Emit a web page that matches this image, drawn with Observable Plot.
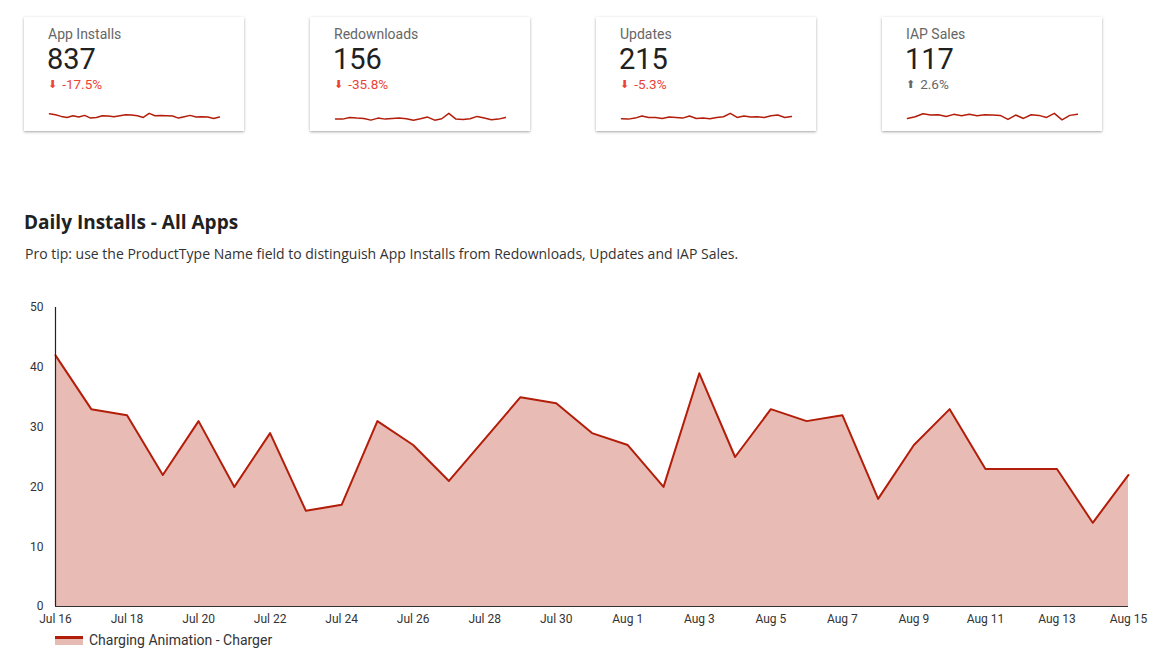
<!DOCTYPE html>
<html>
<head>
<meta charset="utf-8">
<script src="https://cdn.jsdelivr.net/npm/d3@7"></script>
<script src="https://cdn.jsdelivr.net/npm/@observablehq/plot@0.6"></script>
<style>
  html, body { margin: 0; padding: 0; background: #fff; }
  body { width: 1168px; height: 666px; position: relative; overflow: hidden; font-family: Roboto, sans-serif; }
  .card { position: absolute; top: 17px; width: 220px; height: 114px; background: #fff;
          box-shadow: 0 1px 3px rgba(0,0,0,0.28), 0 1px 1px rgba(0,0,0,0.08); }
  .card .lab { position: absolute; left: 24px; top: 9px; font-size: 14px; line-height: 16px; color: #666; }
  .card .num { position: absolute; left: 23px; top: 26px; font-size: 29px; line-height: 32px; color: #212121; }
  .card .chg { position: absolute; left: 24px; top: 59px; font-size: 13.5px; line-height: 16px; }
  .card .chg.down { color: #ea4335; }
  .card .chg.up { color: #666; }
  .card .arr { font-size: 11px; font-family: "DejaVu Sans"; position: relative; top: -1px; margin-right: 5px; }
  .card .spark { position: absolute; left: 24px; top: 87px; }
  #title { position: absolute; left: 24px; top: 210px; font-family: "Open Sans"; font-weight: 700; font-size: 19px; line-height: 24px; color: #212121; }
  #subtitle { position: absolute; left: 25px; top: 244px; font-family: "Open Sans"; font-size: 14px; line-height: 20px; color: #333; }
  #chart { position: absolute; left: 0; top: 290px; }
  #legend { position: absolute; left: 55px; top: 631px; font-size: 14px; line-height: 18px; color: #333; display: flex; align-items: center; }
  #legend .sw { width: 28px; height: 9px; background: #e6bbb4; border-top: 3px solid #b31e0a; box-sizing: border-box; margin-right: 6px; }
</style>
</head>
<body>
<div id="cards"></div>
<div id="title">Daily Installs - All Apps</div>
<div id="subtitle">Pro tip: use the ProductType Name field to distinguish App Installs from Redownloads, Updates and IAP Sales.</div>
<div id="chart"></div>
<div id="legend"><div class="sw"></div><span id="legendText"></span></div>
<script>
// ---- KPI cards ----
const kpiNames = ["App Installs", "Redownloads", "Updates", "IAP Sales"];
const kpiValues = [837, 156, 215, 117];
const kpiChanges = [-17.5, -35.8, -5.3, 2.6];
const sparkInstalls = [23,20,15,12,17,13,18,10,12,17,16,14,17,20,19,17,12,24,17,18,17,16,10,14,18,13,14,13,9,13];
const sparkRedownloads = [7,7,12,10,9,4,10,7,9,10,8,4,8,13,4,8,24,7,6,8,15,10,5,7,12];
const sparkUpdates = [8,7,10,16,12,12,9,13,12,10,16,9,10,8,12,14,24,12,16,13,14,12,17,19,12,15];
const sparkIAP = [9,14,23,19,20,15,21,17,21,17,20,19,18,6,19,9,20,18,12,24,5,18,21];
const sparkSeries = [sparkInstalls, sparkRedownloads, sparkUpdates, sparkIAP];

// ---- Main chart ----
const seriesName = "Charging Animation - Charger";
const startDay = "2019-07-16";
const dailyInstalls = [42,33,32,22,31,20,29,16,17,31,27,21,28,35,34,29,27,20,39,25,33,31,32,18,27,33,23,23,23,14,22];
const yTicks = [0, 10, 20, 30, 40, 50];
const xTickLabels = ["Jul 16","Jul 18","Jul 20","Jul 22","Jul 24","Jul 26","Jul 28","Jul 30","Aug 1","Aug 3","Aug 5","Aug 7","Aug 9","Aug 11","Aug 13","Aug 15"];

const lineColor = "#b31e0a";
const cardLefts = [24, 310, 596, 882];

const cardsEl = document.getElementById("cards");
kpiNames.forEach((name, i) => {
  const card = document.createElement("div");
  card.className = "card";
  card.style.left = cardLefts[i] + "px";
  const ch = kpiChanges[i];
  card.innerHTML = `<div class="lab">${name}</div><div class="num">${kpiValues[i]}</div>` +
    `<div class="chg ${ch < 0 ? "down" : "up"}"><span class="arr">${ch < 0 ? "⬇" : "⬆"}</span>${ch.toFixed(1)}%</div>`;
  const data = sparkSeries[i].map((v, j) => ({j, v}));
  const sp = Plot.plot({
    width: 172, height: 17,
    margin: 0, marginLeft: 1, marginRight: 1,
    x: {axis: null, domain: [0, data.length - 1]},
    y: {axis: null, domain: [0, 50]},
    marks: [Plot.line(data, {x: "j", y: "v", stroke: lineColor, strokeWidth: 1.5, curve: "linear"})]
  });
  sp.classList.add("spark");
  sp.style.position = "absolute";
  card.appendChild(sp);
  cardsEl.appendChild(card);
});

const parse = d3.utcParse("%Y-%m-%d");
const d0 = parse(startDay);
const rows = dailyInstalls.map((v, i) => ({date: d3.utcDay.offset(d0, i), v}));
const fmt = d3.utcFormat("%b %-d");
const xTicks = xTickLabels.map((_, i) => d3.utcDay.offset(d0, i * 2));

const chart = Plot.plot({
  width: 1168, height: 340,
  marginLeft: 55, marginRight: 40, marginTop: 17, marginBottom: 24,
  style: {fontFamily: "Roboto, sans-serif", fontSize: "12px", color: "#333", background: "transparent", overflow: "visible"},
  x: {type: "utc", domain: [rows[0].date, rows[rows.length - 1].date]},
  y: {domain: [0, 50]},
  marks: [
    Plot.areaY(rows, {x: "date", y: "v", fill: lineColor, fillOpacity: 0.3}),
    Plot.lineY(rows, {x: "date", y: "v", stroke: lineColor, strokeWidth: 2}),
    Plot.ruleY([0], {stroke: "#333", strokeWidth: 1.2}),
    Plot.ruleX([rows[0].date], {stroke: "#222", strokeWidth: 1.2}),
    Plot.axisY({ticks: yTicks, tickSize: 0, tickPadding: 12, label: null, fill: "#333"}),
    Plot.axisX({ticks: xTicks, tickSize: 0, tickPadding: 8, label: null, fill: "#333",
                tickFormat: (d) => xTickLabels[Math.round((d - d0) / 864e5 / 2)] ?? fmt(d)})
  ]
});
document.getElementById("chart").appendChild(chart);
document.getElementById("legendText").textContent = seriesName;
</script>
</body>
</html>
